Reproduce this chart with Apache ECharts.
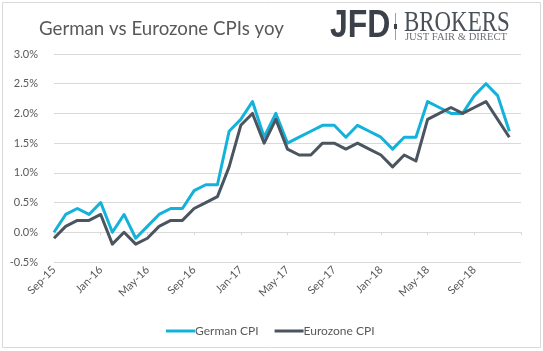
<!DOCTYPE html>
<html>
<head>
<meta charset="utf-8">
<script src="https://cdn.jsdelivr.net/npm/echarts@6/dist/echarts.min.js"></script>
<style>
  html, body { margin: 0; padding: 0; background: #fff; }
  #mains { width: 543px; height: 351px; }
</style>
</head>
<body>
<div id="mains"></div>
<script>
// monthly, Sep-15 .. Dec-18 (axis runs on to Jan-19 like the original)
var months = [
  'Sep-15', 'Oct-15', 'Nov-15', 'Dec-15',
  'Jan-16', 'Feb-16', 'Mar-16', 'Apr-16', 'May-16', 'Jun-16', 'Jul-16', 'Aug-16', 'Sep-16', 'Oct-16', 'Nov-16', 'Dec-16',
  'Jan-17', 'Feb-17', 'Mar-17', 'Apr-17', 'May-17', 'Jun-17', 'Jul-17', 'Aug-17', 'Sep-17', 'Oct-17', 'Nov-17', 'Dec-17',
  'Jan-18', 'Feb-18', 'Mar-18', 'Apr-18', 'May-18', 'Jun-18', 'Jul-18', 'Aug-18', 'Sep-18', 'Oct-18', 'Nov-18', 'Dec-18',
  'Jan-19'
];
var germanCPI = [
  0.0, 0.3, 0.4, 0.3,
  0.5, 0.0, 0.3, -0.1, 0.1, 0.3, 0.4, 0.4, 0.7, 0.8, 0.8, 1.7,
  1.9, 2.2, 1.6, 2.0, 1.5, 1.6, 1.7, 1.8, 1.8, 1.6, 1.8, 1.7,
  1.6, 1.4, 1.6, 1.6, 2.2, 2.1, 2.0, 2.0, 2.3, 2.5, 2.3, 1.7
];
var eurozoneCPI = [
  -0.1, 0.1, 0.2, 0.2,
  0.3, -0.2, 0.0, -0.2, -0.1, 0.1, 0.2, 0.2, 0.4, 0.5, 0.6, 1.1,
  1.8, 2.0, 1.5, 1.9, 1.4, 1.3, 1.3, 1.5, 1.5, 1.4, 1.5, 1.4,
  1.3, 1.1, 1.3, 1.2, 1.9, 2.0, 2.1, 2.0, 2.1, 2.2, 1.9, 1.6
];

var font = 'Lato, "Open Sans", sans-serif';
var textGrey = '#595959';
var lineGrey = '#d9d9d9';

var myChart = echarts.init(document.getElementById('mains'));
myChart.setOption({
    animation: false,
    textStyle: { fontFamily: font },
    title: {
        text: 'German vs Eurozone CPIs yoy',
        left: 34, top: 14,
        textStyle: { fontFamily: font, fontSize: 18.7, fontWeight: 'normal', color: textGrey }
    },
    legend: {
        left: 161, top: 320,
        itemWidth: 29, itemHeight: 3, itemGap: 16,
        icon: 'rect',
        textStyle: { fontFamily: font, fontSize: 12, color: textGrey, padding: [0, 0, 0, -5] },
        data: ['German CPI', 'Eurozone CPI']
    },
    grid: { left: 54, right: 22, top: 54, bottom: 89 },
    xAxis: [{
        // axis line sitting on 0%
        type: 'category',
        data: months,
        boundaryGap: false,
        axisLine: { onZero: true, lineStyle: { color: lineGrey, width: 1 } },
        axisTick: { interval: 3, length: 3, lineStyle: { color: lineGrey } },
        axisLabel: { show: false },
        splitLine: { show: false }
    }, {
        // labels at the bottom
        type: 'category',
        data: months,
        boundaryGap: false,
        position: 'bottom',
        axisLine: { show: false, onZero: false },
        axisTick: { show: false },
        axisLabel: {
            interval: 3, rotate: 45, margin: 6,
            fontFamily: font, fontSize: 11, color: textGrey,
            formatter: function (v, i) { return i < germanCPI.length ? v : ''; }
        }
    }],
    yAxis: {
        type: 'value',
        min: -0.5, max: 3.0, interval: 0.5,
        axisLine: { show: false },
        axisTick: { show: false },
        axisLabel: {
            margin: 16, fontFamily: font, fontSize: 11, color: textGrey,
            formatter: function (v) { return v.toFixed(1) + '%'; }
        },
        splitLine: { lineStyle: { color: lineGrey, width: 1 } }
    },
    series: [{
        name: 'German CPI',
        type: 'line',
        data: germanCPI,
        showSymbol: false,
        symbol: 'none',
        itemStyle: { color: '#12b2da' },
        lineStyle: { color: '#12b2da', width: 3, join: 'round' }
    }, {
        name: 'Eurozone CPI',
        type: 'line',
        data: eurozoneCPI,
        showSymbol: false,
        symbol: 'none',
        itemStyle: { color: '#4b5560' },
        lineStyle: { color: '#4b5560', width: 3, join: 'round' }
    }],
    graphic: [
        { type: 'rect', shape: { x: 2.5, y: 2.5, width: 538, height: 345 },
          style: { fill: 'none', stroke: lineGrey, lineWidth: 1 }, silent: true },
        // logo
        { type: 'text', x: 330, y: 7, scaleX: 0.82,
          style: { text: 'JFD', fontFamily: '"Liberation Sans", Arial, sans-serif',
                   fontWeight: 'bold', fontSize: 39, fill: '#3b4149' } },
        { type: 'rect', shape: { x: 395, y: 13, width: 1, height: 27 }, style: { fill: '#9aa0a6' } },
        { type: 'rect', shape: { x: 394, y: 24, width: 3, height: 5 }, style: { fill: '#3b4149' } },
        { type: 'text', x: 404, y: 9, scaleX: 0.79,
          style: { text: 'BROKERS', fontFamily: '"Liberation Serif", serif', fontSize: 29, fill: '#4a5058' } },
        { type: 'text', x: 405, y: 32,
          style: { text: 'JUST FAIR & DIRECT', fontFamily: '"Liberation Serif", serif', fontSize: 10.6, fill: '#6b7078' } }
    ]
});

window.addEventListener('resize', function () { myChart.resize(); });
</script>
</body>
</html>
